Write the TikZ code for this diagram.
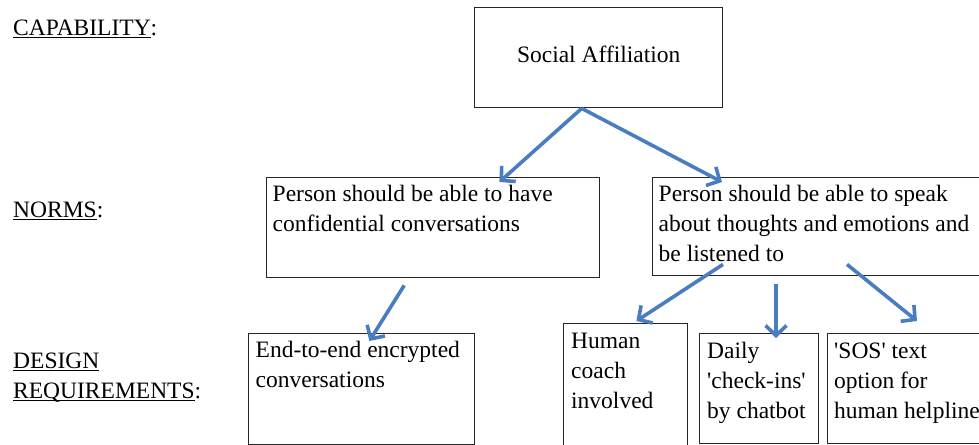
\documentclass[tikz,border=0pt]{standalone}
\usepackage{fontspec}
\setmainfont{Liberation Serif}
\newfontfamily\tnr{Liberation Serif}
\usetikzlibrary{arrows.meta,calc}

\definecolor{arrowblue}{HTML}{4A7DC0}
\newcommand\undl[1]{\setbox0\hbox{#1}\rlap{\rule[-3bp]{\wd0}{1.3bp}}\box0}
\newcommand\sq{\textquotesingle}

\begin{document}
\begin{tikzpicture}[x=1bp,y=-1bp,
  every node/.style={font=\tnr\fontsize{23.5bp}{30bp}\selectfont, inner sep=0pt, text=black},
  box/.style={draw=black!85, line width=1.4bp, rectangle, anchor=north west},
  txt/.style={anchor=north west, align=left},
  lbl/.style={anchor=north west, align=left},
  arr/.style={draw=arrowblue, line width=3.6bp,
    -{Straight Barb[length=10bp,width=21bp]}}]

\useasboundingbox (0,0) rectangle (979,445);
\clip (0,0) rectangle (979,445);

% row labels
\node[lbl] (lcap) at (13,14) {\strut\undl{CAPABILITY}:};
\node[lbl] (lnorm) at (13,196) {\strut\undl{NORMS}:};
\node[lbl] (ldes) at (13,347) {\strut\undl{DESIGN}\\\undl{REQUIREMENTS}:};

% capability
\node[box, minimum width=248bp, minimum height=100bp] (sa) at (474,7) {};
\node[anchor=base] (sat) at ($(sa.north)+(0,56)$) {Social Affiliation};

% norms
\node[box, minimum width=333bp, minimum height=100bp] (n1) at (266,177) {};
\node[txt] (n1t) at ($(n1.north west)+(6.5,3)$)
  {\strut Person should be able to have\\confidential conversations};

\node[box, minimum width=340bp, minimum height=98bp] (n2) at (652,177) {};
\node[txt] (n2t) at ($(n2.north west)+(6.5,3)$)
  {\strut Person should be able to speak\\about thoughts and emotions and\\be listened to};

% design requirements
\node[box, minimum width=226bp, minimum height=111bp] (d1) at (248,333) {};
\node[txt] (d1t) at ($(d1.north west)+(7.5,3)$)
  {\strut End-to-end encrypted\\conversations};

\node[box, minimum width=124bp, minimum height=135bp] (d2) at (563,323) {};
\node[txt] (d2t) at ($(d2.north west)+(8,4)$)
  {\strut Human\\coach\\involved};

\node[box, minimum width=119bp, minimum height=110bp] (d3) at (699,333) {};
\node[txt] (d3t) at ($(d3.north west)+(8,4)$)
  {\strut Daily\\\sq check-ins\sq\\by chatbot};

\node[box, minimum width=170bp, minimum height=110bp] (d4) at (827,333) {};
\node[txt] (d4t) at ($(d4.north west)+(7,4)$)
  {\strut\sq SOS\sq{} text\\option for\\human helpline};

% connectors
\draw[arr] ($(sa.south)+(-17,0)$) -- ($(n1.north east)+(-101,5)$);
\draw[arr] ($(sa.south)+(-17,0)$) -- ($(n2.north west)+(70,5)$);
\draw[arr] ($(n1.south)+(-29,7)$) -- ($(d1.north east)+(-106,8)$);
\draw[arr] ($(n2.south west)+(71,-12)$) -- ($(d2.north east)+(-52,-2)$);
\draw[arr] ($(n2.south west)+(124,8)$) -- ($(d3.north west)+(77,5)$);
\draw[arr] ($(n2.south west)+(195,-12)$) -- ($(d4.north west)+(90,-12)$);

\end{tikzpicture}
\end{document}
